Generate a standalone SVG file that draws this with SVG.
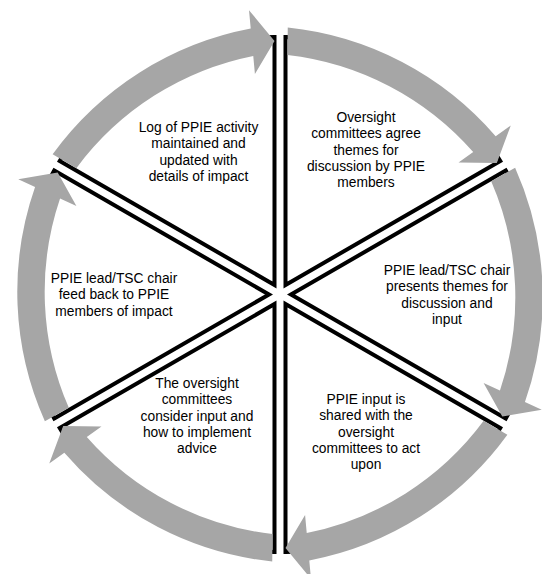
<svg xmlns="http://www.w3.org/2000/svg" width="542" height="574" viewBox="0 0 542 574">
  <defs>
    <style>
      .wedge { fill: #ffffff; stroke: #000000; stroke-width: 4; stroke-linejoin: miter; }
      .arrow { fill: #a6a6a6; stroke: none; }
      .lbl { font-family: "Liberation Sans", Arial, sans-serif; font-size: 13.8px; fill: #000000; text-anchor: middle; }
    </style>
    <path id="wedgeShape" class="wedge" d="M0,0 L0,-248 A248,248 0 0 1 214.78,-124 Z"/>
    <path id="arrowShape" class="arrow" d="M2.25,-257.49 A318,318 0 0 1 210.16,-148.79 L225.25,-159.48 L211.31,-122 L173.02,-122.5 L187.71,-132.9 A291,291 0 0 0 2.01,-229.99 Z"/>
  </defs>
  <rect width="542" height="574" fill="#ffffff"/>

  <g id="node1">
    <use href="#wedgeShape" transform="translate(280 294.5) rotate(0) translate(5.5 -9.526)"/>
    <text class="lbl"><tspan x="366" y="122">Oversight</tspan><tspan x="366" y="138.3">committees agree</tspan><tspan x="366" y="154.6">themes for</tspan><tspan x="366" y="170.9">discussion by PPIE</tspan><tspan x="366" y="187.2">members</tspan></text>
  </g>
  <g id="node2">
    <use href="#wedgeShape" transform="translate(280 294.5) rotate(60) translate(5.5 -9.526)"/>
    <text class="lbl"><tspan x="447" y="275">PPIE lead/TSC chair</tspan><tspan x="447" y="291.3">presents themes for</tspan><tspan x="447" y="307.6">discussion and</tspan><tspan x="447" y="323.9">input</tspan></text>
  </g>
  <g id="node3">
    <use href="#wedgeShape" transform="translate(280 294.5) rotate(120) translate(5.5 -9.526)"/>
    <text class="lbl"><tspan x="366" y="404">PPIE input is</tspan><tspan x="366" y="420.3">shared with the</tspan><tspan x="366" y="436.6">oversight</tspan><tspan x="366" y="452.9">committees to act</tspan><tspan x="366" y="469.2">upon</tspan></text>
  </g>
  <g id="node4">
    <use href="#wedgeShape" transform="translate(280 294.5) rotate(180) translate(5.5 -9.526)"/>
    <text class="lbl"><tspan x="197" y="388">The oversight</tspan><tspan x="197" y="404.3">committees</tspan><tspan x="197" y="420.6">consider input and</tspan><tspan x="197" y="436.9">how to implement</tspan><tspan x="197" y="453.2">advice</tspan></text>
  </g>
  <g id="node5">
    <use href="#wedgeShape" transform="translate(280 294.5) rotate(240) translate(5.5 -9.526)"/>
    <text class="lbl"><tspan x="114" y="283">PPIE lead/TSC chair</tspan><tspan x="114" y="299.3">feed back to PPIE</tspan><tspan x="114" y="315.6">members of impact</tspan></text>
  </g>
  <g id="node6">
    <use href="#wedgeShape" transform="translate(280 294.5) rotate(300) translate(5.5 -9.526)"/>
    <text class="lbl"><tspan x="198.5" y="132">Log of PPIE activity</tspan><tspan x="198.5" y="148.3">maintained and</tspan><tspan x="198.5" y="164.6">updated with</tspan><tspan x="198.5" y="180.9">details of impact</tspan></text>
  </g>

  <g id="connectors">
    <use href="#arrowShape" transform="translate(280 294.5) rotate(0) translate(5.5 -9.526)"/>
    <use href="#arrowShape" transform="translate(280 294.5) rotate(60) translate(5.5 -9.526)"/>
    <use href="#arrowShape" transform="translate(280 294.5) rotate(120) translate(5.5 -9.526)"/>
    <use href="#arrowShape" transform="translate(280 294.5) rotate(180) translate(5.5 -9.526)"/>
    <use href="#arrowShape" transform="translate(280 294.5) rotate(240) translate(5.5 -9.526)"/>
    <use href="#arrowShape" transform="translate(280 294.5) rotate(300) translate(5.5 -9.526)"/>
  </g>
</svg>
